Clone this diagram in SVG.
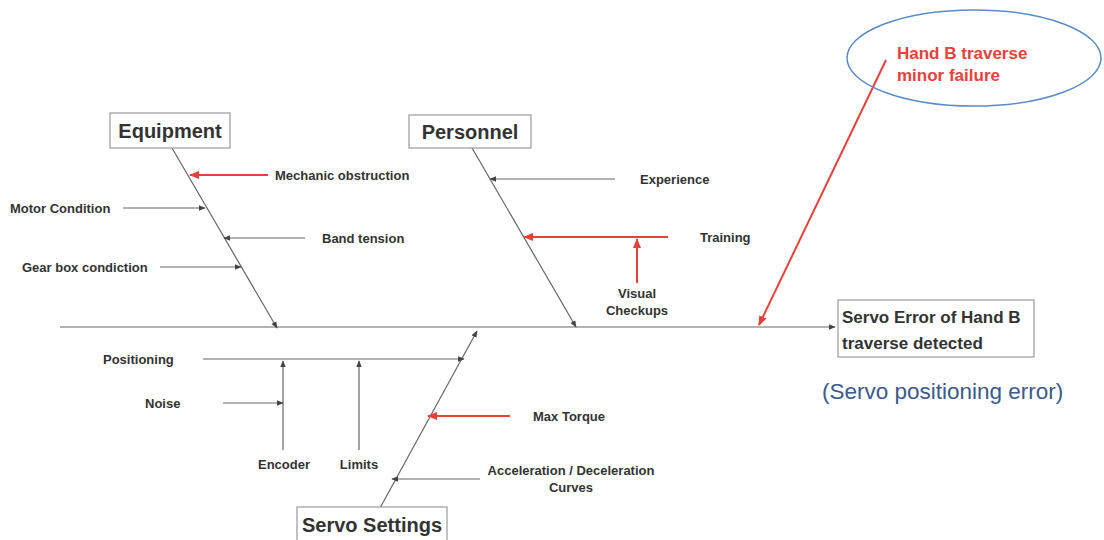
<svg xmlns="http://www.w3.org/2000/svg" width="1104" height="540" viewBox="0 0 1104 540">
<defs>
<marker id="ah" viewBox="0 0 10 10" refX="9" refY="5" markerWidth="7" markerHeight="7" orient="auto" markerUnits="userSpaceOnUse"><path d="M0,1 L10,5 L0,9 z" fill="#444"/></marker>
<marker id="ahr" viewBox="0 0 10 10" refX="9" refY="5" markerWidth="10" markerHeight="10" orient="auto" markerUnits="userSpaceOnUse"><path d="M0,1 L10,5 L0,9 z" fill="#e8413c"/></marker>
</defs>
<style>
.ln{stroke:#666;stroke-width:1.2;fill:none}
.rd{stroke:#e8413c;stroke-width:2;fill:none}
.lbl{font-family:"Liberation Sans",Arial,sans-serif;font-size:13px;font-weight:bold;fill:#333}
.cat{font-family:"Liberation Sans",Arial,sans-serif;font-size:20px;font-weight:bold;fill:#333}
.box{fill:#fff;stroke:#999;stroke-width:1.2}
.eff{font-family:"Liberation Sans",Arial,sans-serif;font-size:17px;font-weight:bold;fill:#333}
.rc{font-family:"Liberation Sans",Arial,sans-serif;font-size:17px;font-weight:bold;fill:#e8413c}
</style>
<rect width="1104" height="540" fill="#fff"/>
<g id="connectors">
<line class="ln" x1="60" y1="327" x2="835" y2="327" marker-end="url(#ah)"/>
<line class="ln" x1="172" y1="148" x2="277" y2="328" marker-end="url(#ah)"/>
<line class="ln" x1="472" y1="148" x2="576" y2="327" marker-end="url(#ah)"/>
<line class="ln" x1="380" y1="508" x2="477" y2="331" marker-end="url(#ah)"/>
<line class="rd" x1="268" y1="175" x2="190" y2="175" marker-end="url(#ahr)"/>
<line class="ln" x1="123" y1="208" x2="205" y2="208" marker-end="url(#ah)"/>
<line class="ln" x1="305" y1="238" x2="224" y2="238" marker-end="url(#ah)"/>
<line class="ln" x1="160" y1="267" x2="241" y2="267" marker-end="url(#ah)"/>
<line class="ln" x1="615" y1="179" x2="490" y2="179" marker-end="url(#ah)"/>
<line class="rd" x1="668" y1="237" x2="524" y2="237" marker-end="url(#ahr)"/>
<line class="rd" x1="637" y1="283" x2="637" y2="239" marker-end="url(#ahr)"/>
<line class="rd" x1="886" y1="60" x2="759" y2="325" marker-end="url(#ahr)"/>
<line class="ln" x1="203" y1="359" x2="464" y2="359" marker-end="url(#ah)"/>
<line class="ln" x1="283" y1="450" x2="283" y2="361" marker-end="url(#ah)"/>
<line class="ln" x1="359" y1="450" x2="359" y2="361" marker-end="url(#ah)"/>
<line class="ln" x1="223" y1="403" x2="283" y2="403" marker-end="url(#ah)"/>
<line class="rd" x1="510" y1="416" x2="428" y2="416" marker-end="url(#ahr)"/>
<line class="ln" x1="480" y1="479" x2="392" y2="479" marker-end="url(#ah)"/>
</g>
<g id="equipment">
<rect class="box" x="110" y="113" width="120" height="35"/>
<text class="cat" x="170" y="138" text-anchor="middle">Equipment</text>
</g>
<g id="personnel">
<rect class="box" x="409" y="115" width="122" height="33"/>
<text class="cat" x="470" y="139" text-anchor="middle">Personnel</text>
</g>
<g id="servo-settings">
<rect class="box" x="297" y="507" width="150" height="34"/>
<text class="cat" x="372" y="532" text-anchor="middle">Servo Settings</text>
</g>
<g id="effect">
<rect class="box" x="838" y="300" width="196" height="57"/>
<text class="eff" x="842" y="323">Servo Error of Hand B</text>
<text class="eff" x="842" y="349">traverse detected</text>
<text font-family="Liberation Sans, Arial, sans-serif" font-size="22.5" fill="#3c5a8a" x="822" y="399">(Servo positioning error)</text>
</g>
<g id="root-cause">
<ellipse cx="974" cy="58" rx="127" ry="48" fill="none" stroke="#5b8cc8" stroke-width="1.5"/>
<text class="rc" x="897" y="59">Hand B traverse</text>
<text class="rc" x="897" y="81">minor failure</text>
</g>
<g id="labels">
<text class="lbl" x="275" y="180">Mechanic obstruction</text>
<text class="lbl" x="10" y="213">Motor Condition</text>
<text class="lbl" x="322" y="243">Band tension</text>
<text class="lbl" x="22" y="272">Gear box condiction</text>
<text class="lbl" x="640" y="184">Experience</text>
<text class="lbl" x="700" y="242">Training</text>
<text class="lbl" x="637" y="298" text-anchor="middle">Visual</text>
<text class="lbl" x="637" y="315" text-anchor="middle">Checkups</text>
<text class="lbl" x="103" y="364">Positioning</text>
<text class="lbl" x="145" y="408">Noise</text>
<text class="lbl" x="284" y="469" text-anchor="middle">Encoder</text>
<text class="lbl" x="359" y="469" text-anchor="middle">Limits</text>
<text class="lbl" x="533" y="421">Max Torque</text>
<text class="lbl" x="571" y="475" text-anchor="middle">Acceleration / Deceleration</text>
<text class="lbl" x="571" y="492" text-anchor="middle">Curves</text>
</g>
</svg>
